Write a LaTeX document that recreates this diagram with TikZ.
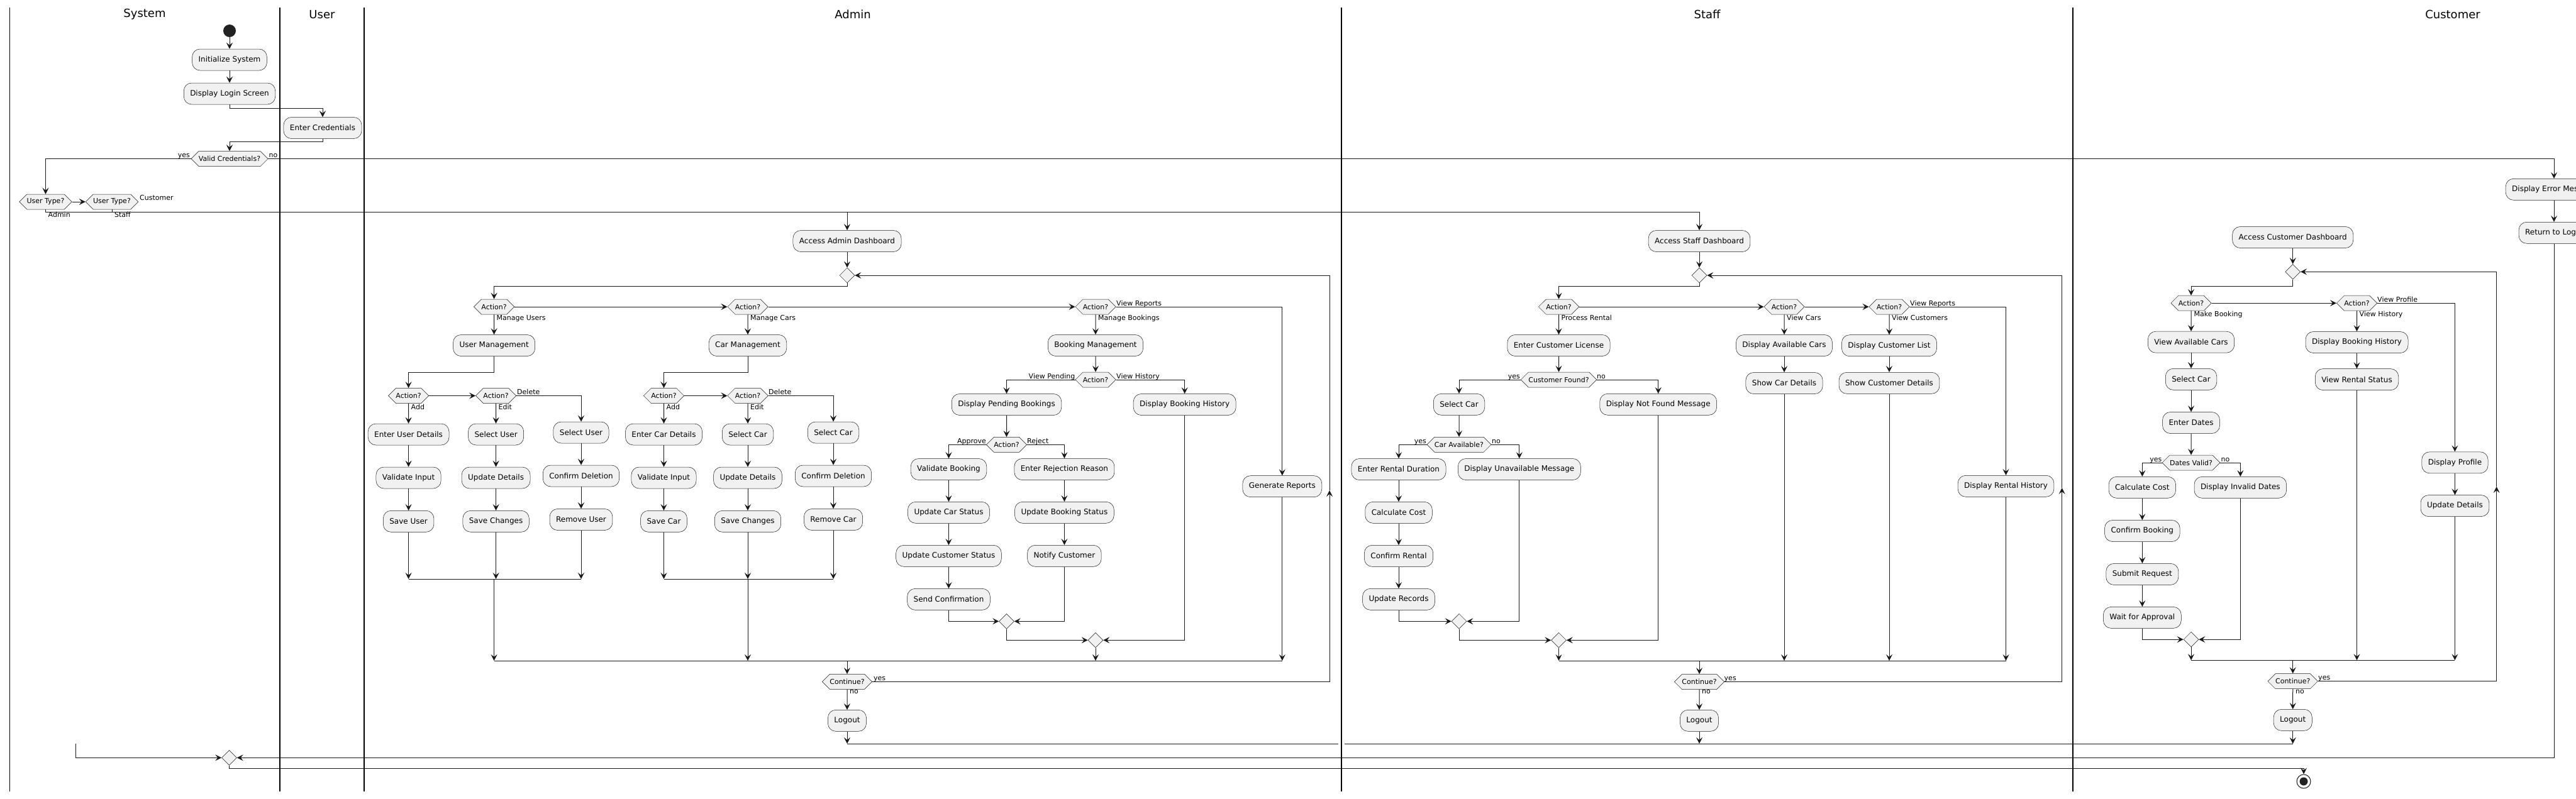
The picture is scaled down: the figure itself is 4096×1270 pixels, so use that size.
\documentclass[tikz,border=0pt]{standalone}
\usepackage{fontspec}
\setmainfont{DejaVu Sans}
\usetikzlibrary{arrows.meta,shapes.geometric,shapes.symbols,calc}
\definecolor{cF}{HTML}{F1F1F1}
\definecolor{cK}{HTML}{181818}
\definecolor{cS}{HTML}{222222}
\newcommand\fntbox{\fontsize{12}{14}\selectfont}
\newcommand\fntlab{\fontsize{11}{13}\selectfont}
\newcommand\fnttitle{\fontsize{18}{22}\selectfont}
\begin{document}
\begin{tikzpicture}[x=1pt,y=-1pt,
  act/.style={rounded corners=12.5pt, draw=cK, line width=0.5pt, fill=cF, font=\fntbox, inner xsep=10pt, inner ysep=0pt, minimum height=34pt, text=black},
  hexa/.style={signal, signal to=east and west, signal pointer angle=90, draw=cK, line width=0.5pt, fill=cF, font=\fntlab, inner xsep=0pt, inner ysep=0pt, minimum height=24pt},
  mrg/.style={diamond, draw=cK, line width=0.5pt, fill=cF, minimum width=24pt, minimum height=24pt, inner sep=0pt},
  ln/.style={draw=cK, line width=1pt},
  arr/.style={ln, -{Stealth[length=10pt,width=10pt,inset=4pt]}},
  lab/.style={font=\fntlab, inner sep=0pt},
  lane/.style={draw=black, line width=1.2pt},
  ttl/.style={font=\fnttitle, inner sep=0pt}
]
\useasboundingbox[fill=white] (0,0) rectangle (4096,1270);
% lanes
\foreach \xx in {15.6,445,579,2133,3296} \draw[lane] (\xx,12) -- (\xx,1259);
\node[ttl] (tS) at (230,23) {System};
\node[ttl] (tU) at (512,23) {User};
\node[ttl] (tA) at (1356,23) {Admin};
\node[ttl] (tSt) at (2714.5,23) {Staff};
\node[ttl] (tC) at (3900,23) {Customer};

% ---------- System / User ----------
\node[circle, fill=cS, minimum size=20pt, inner sep=0pt] (st) at (365,49) {};
\node[act] (s1) at (365,95) {Initialize System};
\node[act] (s2) at (365,149) {Display Login Screen};
\node[act] (u1) at (513,203.5) {Enter Credentials};
\node[hexa] (d1) at (365,252.5) {Valid Credentials?};
\node[hexa] (ut1) at (72.5,321) {User Type?};
\node[hexa] (ut2) at (178,321) {User Type?};
\node[act] (e1) at (4061,301.3) {Display Error Message};
\node[act] (e2) at (4061,370.3) {Return to Login};
\node[mrg] (mf) at (364.5,1205.3) {};
\node[circle, draw=cK, line width=1pt, fill=white, minimum size=22pt, inner sep=0pt,
  path picture={\fill[cS] (path picture bounding box.center) circle (6.5pt);}] (fin) at (3663,1243) {};
\coordinate (rl) at (4061,1205.3);
\coordinate (stub) at (120.5,1183);

% ---------- Admin ----------
\node[act] (a0) at (1347,383.5) {Access Admin Dashboard};
\node[mrg] (am) at (1347,438) {};
\node[hexa] (aq1) at (785.6,488) {Action?};
\node[hexa] (aq2) at (1189,488) {Action?};
\node[hexa] (aq3) at (1742,488) {Action?};
\node[act] (um) at (785.6,549.5) {User Management};
\node[act] (cm) at (1189,549.5) {Car Management};
\node[act] (bm) at (1742,549.5) {Booking Management};
\node[hexa] (uq1) at (649.6,629.5) {Action?};
\node[hexa] (uq2) at (788.6,629.5) {Action?};
\node[hexa] (cq1) at (1055.5,629.5) {Action?};
\node[hexa] (cq2) at (1189,629.5) {Action?};
\node[act] (eud) at (649.6,691) {Enter User Details};
\node[act] (su) at (788.6,691) {Select User};
\node[act] (sud) at (924,688) {Select User};
\node[act] (vi) at (649.6,760) {Validate Input};
\node[act] (ud) at (788.6,760) {Update Details};
\node[act] (cd) at (924,757) {Confirm Deletion};
\node[act] (svu) at (649.6,829.3) {Save User};
\node[act] (sch) at (788.6,829.3) {Save Changes};
\node[act] (ru) at (924,826.5) {Remove User};
\node[act] (ecd) at (1055.5,691) {Enter Car Details};
\node[act] (sca) at (1189,691) {Select Car};
\node[act] (scd) at (1325,688) {Select Car};
\node[act] (vic) at (1055.5,760) {Validate Input};
\node[act] (udc) at (1189,760) {Update Details};
\node[act] (cdc) at (1325,757) {Confirm Deletion};
\node[act] (svc) at (1055.5,829.3) {Save Car};
\node[act] (schc) at (1189,829.3) {Save Changes};
\node[act] (rc) at (1325,826.5) {Remove Car};
\node[hexa] (bq) at (1742,604) {Action?};
\node[act] (dpb) at (1600.5,643.5) {Display Pending Bookings};
\node[act] (dbh) at (1883.7,643.5) {Display Booking History};
\node[hexa] (bq2) at (1600.5,707.3) {Action?};
\node[act] (vb) at (1508.5,746.5) {Validate Booking};
\node[act] (err) at (1692.4,746.5) {Enter Rejection Reason};
\node[act] (ucs) at (1508.5,815.3) {Update Car Status};
\node[act] (ubs) at (1692.4,815.3) {Update Booking Status};
\node[act] (ucu) at (1508.5,884.3) {Update Customer Status};
\node[act] (nc) at (1692.4,884.3) {Notify Customer};
\node[act] (sco) at (1508.5,953.3) {Send Confirmation};
\node[mrg] (bmi) at (1600.5,988.3) {};
\node[mrg] (bmo) at (1742,1018.3) {};
\node[act] (gr) at (2038.8,773.7) {Generate Reports};
\node[hexa] (ac) at (1347,1084.3) {Continue?};
\node[act] (alo) at (1347,1146.3) {Logout};
\coordinate (ubL) at (649.6,921); \coordinate (ubR) at (924,921); \coordinate (ubM) at (785.6,921);
\coordinate (cbL) at (1055.5,921); \coordinate (cbR) at (1325,921); \coordinate (cbM) at (1189,921);
\coordinate (abL) at (785.6,1051); \coordinate (abR) at (2038.8,1051);
\coordinate (alp) at (2114,780);
\coordinate (lgL) at (1347,1183); \coordinate (lgG1) at (2128,1183); \coordinate (lgG2) at (2138,1183); \coordinate (lgR) at (3645.7,1183);

% ---------- Staff ----------
\node[act] (s0) at (2702,383.5) {Access Staff Dashboard};
\node[mrg] (sm) at (2702,438) {};
\node[hexa] (sq1) at (2478.5,488) {Action?};
\node[hexa] (sq2) at (2837,488) {Action?};
\node[hexa] (sq3) at (3004,488) {Action?};
\node[act] (ecl) at (2478.5,549.5) {Enter Customer License};
\node[hexa] (cf) at (2478.5,604) {Customer Found?};
\node[act] (ssc) at (2320,643.3) {Select Car};
\node[act] (dnf) at (2636.7,643.3) {Display Not Found Message};
\node[hexa] (ca) at (2320,707.3) {Car Available?};
\node[act] (erd) at (2224,746.5) {Enter Rental Duration};
\node[act] (dum) at (2415.8,746.5) {Display Unavailable Message};
\node[act] (scc) at (2224,815.3) {Calculate Cost};
\node[act] (scr) at (2224,884.3) {Confirm Rental};
\node[act] (sur) at (2224,953.3) {Update Records};
\node[mrg] (smi) at (2320,988.3) {};
\node[mrg] (smo) at (2478.5,1018.3) {};
\node[act] (dac) at (2837,549.5) {Display Available Cars};
\node[act] (shc) at (2837,609.5) {Show Car Details};
\node[act] (dcl) at (3004,549.7) {Display Customer List};
\node[act] (scu) at (3004,609.3) {Show Customer Details};
\node[act] (drh) at (3189.5,773.3) {Display Rental History};
\node[hexa] (sct) at (2702,1084.5) {Continue?};
\node[act] (slo) at (2702,1146.3) {Logout};
\coordinate (sbL) at (2478.5,1051); \coordinate (sbR) at (3189.5,1051);
\coordinate (slp) at (3278.6,776);

% ---------- Customer ----------
\node[act] (c0) at (3645.7,377.5) {Access Customer Dashboard};
\node[mrg] (cmd) at (3645.7,432.3) {};
\node[hexa] (kq1) at (3484,482.2) {Action?};
\node[hexa] (kq2) at (3747.5,482.2) {Action?};
\node[act] (vac) at (3484,544.2) {View Available Cars};
\node[act] (ksc) at (3484,603.3) {Select Car};
\node[act] (ked) at (3484,672.5) {Enter Dates};
\node[hexa] (dv) at (3484,736) {Dates Valid?};
\node[act] (kcc) at (3406.3,775.3) {Calculate Cost};
\node[act] (kcb) at (3406.3,844.5) {Confirm Booking};
\node[act] (ksr) at (3406.3,913.4) {Submit Request};
\node[act] (kwa) at (3406.3,982.4) {Wait for Approval};
\node[act] (did) at (3562.3,775.3) {Display Invalid Dates};
\node[mrg] (kdm) at (3484,1017.2) {};
\node[act] (kbh) at (3747.5,544.5) {Display Booking History};
\node[act] (vrs) at (3747.5,603.6) {View Rental Status};
\node[act] (dp) at (3903.4,735.8) {Display Profile};
\node[act] (kud) at (3903.4,804.6) {Update Details};
\node[hexa] (kco) at (3645.7,1083.7) {Continue?};
\node[act] (klo) at (3645.7,1145.3) {Logout};
\coordinate (kbL) at (3484,1050.3); \coordinate (kbR) at (3903.4,1050.3);
\coordinate (klp) at (3969.6,774);

% ---------- connectors: system ----------
\draw[arr] (st) -- (s1);
\draw[arr] (s1) -- (s2);
\draw[arr] (s2.south) -- ++(0,6) -| (u1.north);
\draw[arr] (u1.south) -- ++(0,5) -| (d1.north);
\draw[arr] (d1.west) -| (ut1.north);
\draw[arr] (d1.east) -| (e1.north);
\draw[arr] (ut1.east) -- (ut2.west);
\draw[arr] (ut1.south) -- ++(0,4) -| (a0.north);
\draw[arr] (ut2.south) -- ++(0,4) -| (s0.north);
\draw[arr] (e1) -- (e2);
\draw[arr] (e2.south) -- (rl) -- (mf.east);
\draw[arr] (stub) |- (mf.west);
\draw[arr] (mf.south) -- ++(0,5) -| (fin.north);
\node[lab, anchor=base east] (l1) at (302,250.5) {yes};
\node[lab, anchor=base west] (l2) at (427.5,250.5) {no};
\node[lab, anchor=base west] (l3) at (222,318.5) {Customer};
\node[lab, anchor=north west] (l4) at (76.5,336.5) {Admin};
\node[lab, anchor=north west] (l5) at (182,336.5) {Staff};

% ---------- connectors: admin ----------
\draw[arr] (a0) -- (am);
\draw[arr] (am.south) -- ++(0,5.7) -| (aq1.north);
\draw[arr] (aq1.east) -- (aq2.west);
\draw[arr] (aq2.east) -- (aq3.west);
\draw[arr] (aq3.east) -| (gr.north);
\draw[arr] (aq1) -- (um);
\draw[arr] (aq2) -- (cm);
\draw[arr] (aq3) -- (bm);
\draw[arr] (um.south) -- ++(0,25.3) -| (uq1.north);
\draw[arr] (cm.south) -- ++(0,25.3) -| (cq1.north);
\draw[arr] (uq1.east) -- (uq2.west);
\draw[arr] (uq2.east) -| (sud.north);
\draw[arr] (cq1.east) -- (cq2.west);
\draw[arr] (cq2.east) -| (scd.north);
\draw[arr] (uq1) -- (eud); \draw[arr] (eud) -- (vi); \draw[arr] (vi) -- (svu);
\draw[arr] (uq2) -- (su); \draw[arr] (su) -- (ud); \draw[arr] (ud) -- (sch);
\draw[arr] (sud) -- (cd); \draw[arr] (cd) -- (ru);
\draw[arr] (cq1) -- (ecd); \draw[arr] (ecd) -- (vic); \draw[arr] (vic) -- (svc);
\draw[arr] (cq2) -- (sca); \draw[arr] (sca) -- (udc); \draw[arr] (udc) -- (schc);
\draw[arr] (scd) -- (cdc); \draw[arr] (cdc) -- (rc);
\draw[arr] (svu.south) -- (ubL); \draw[arr] (sch.south) -- (sch.south |- ubL); \draw[arr] (ru.south) -- (ubR);
\draw[ln] (ubL) -- (ubR);
\draw[arr] (svc.south) -- (cbL); \draw[arr] (schc.south) -- (cbM); \draw[arr] (rc.south) -- (cbR);
\draw[ln] (cbL) -- (cbR);
\draw[arr] (ubM) -- (abL);
\draw[arr] (cbM) -- (cbM |- abL);
\draw[arr] (bm) -- (bq);
\draw[arr] (bq.west) -| (dpb.north);
\draw[arr] (bq.east) -| (dbh.north);
\draw[arr] (dpb) -- (bq2);
\draw[arr] (bq2.west) -| (vb.north);
\draw[arr] (bq2.east) -| (err.north);
\draw[arr] (vb) -- (ucs); \draw[arr] (ucs) -- (ucu); \draw[arr] (ucu) -- (sco);
\draw[arr] (err) -- (ubs); \draw[arr] (ubs) -- (nc);
\draw[arr] (sco.south) |- (bmi.west);
\draw[arr] (nc.south) |- (bmi.east);
\draw[arr] (bmi.south) |- (bmo.west);
\draw[arr] (dbh.south) |- (bmo.east);
\draw[arr] (bmo.south) -- (bmo.south |- abL);
\draw[arr] (gr.south) -- (abR);
\draw[ln] (abL) -- (abR);
\draw[arr] (ac.north |- abL) -- (ac.north);
\draw[arr] (ac.east) -| (alp);
\draw[arr] (alp) |- (am.east);
\draw[arr] (ac) -- (alo);
\draw[arr] (alo.south) -- (lgL);
\draw[ln] (lgL) -- (lgG1);
\draw[ln] (lgG2) -- (lgR);
\node[lab, anchor=north west] (m1) at (789.5,501) {Manage Users};
\node[lab, anchor=north west] (m2) at (1193,501) {Manage Cars};
\node[lab, anchor=north west] (m3) at (1746,501) {Manage Bookings};
\node[lab, anchor=base west] (m4) at (1775,486) {View Reports};
\node[lab, anchor=north west] (m5) at (653.5,642.5) {Add};
\node[lab, anchor=north west] (m6) at (792.5,642.5) {Edit};
\node[lab, anchor=base west] (m7) at (822,627.5) {Delete};
\node[lab, anchor=north west] (m8) at (1059.5,642.5) {Add};
\node[lab, anchor=north west] (m9) at (1193,642.5) {Edit};
\node[lab, anchor=base west] (m10) at (1222,627.5) {Delete};
\node[lab, anchor=base east] (m11) at (1709.5,602) {View Pending};
\node[lab, anchor=base west] (m12) at (1775,602) {View History};
\node[lab, anchor=base east] (m13) at (1568,705.3) {Approve};
\node[lab, anchor=base west] (m14) at (1633,705.3) {Reject};
\node[lab, anchor=base west] (m15) at (1389,1082.3) {yes};
\node[lab, anchor=north west] (m16) at (1351,1097.5) {no};

% ---------- connectors: staff ----------
\draw[arr] (s0) -- (sm);
\draw[arr] (sm.south) -- ++(0,5.7) -| (sq1.north);
\draw[arr] (sq1.east) -- (sq2.west);
\draw[arr] (sq2.east) -- (sq3.west);
\draw[arr] (sq3.east) -| (drh.north);
\draw[arr] (sq1) -- (ecl);
\draw[arr] (sq2) -- (dac);
\draw[arr] (sq3) -- (dcl);
\draw[arr] (ecl) -- (cf);
\draw[arr] (cf.west) -| (ssc.north);
\draw[arr] (cf.east) -| (dnf.north);
\draw[arr] (ssc) -- (ca);
\draw[arr] (ca.west) -| (erd.north);
\draw[arr] (ca.east) -| (dum.north);
\draw[arr] (erd) -- (scc); \draw[arr] (scc) -- (scr); \draw[arr] (scr) -- (sur);
\draw[arr] (sur.south) |- (smi.west);
\draw[arr] (dum.south) |- (smi.east);
\draw[arr] (smi.south) |- (smo.west);
\draw[arr] (dnf.south) |- (smo.east);
\draw[arr] (dac) -- (shc);
\draw[arr] (dcl) -- (scu);
\draw[arr] (smo.south) -- (sbL);
\draw[arr] (shc.south) -- (shc.south |- sbL);
\draw[arr] (scu.south) -- (scu.south |- sbL);
\draw[arr] (drh.south) -- (sbR);
\draw[ln] (sbL) -- (sbR);
\draw[arr] (sct.north |- sbL) -- (sct.north);
\draw[arr] (sct.east) -| (slp);
\draw[arr] (slp) |- (sm.east);
\draw[arr] (sct) -- (slo);
\draw[arr] (slo.south) -- (slo.south |- lgR);
\node[lab, anchor=north west] (n1) at (2482.5,501) {Process Rental};
\node[lab, anchor=north west] (n2) at (2841,501) {View Cars};
\node[lab, anchor=north west] (n3) at (3008,501) {View Customers};
\node[lab, anchor=base west] (n4) at (3037,486) {View Reports};
\node[lab, anchor=base east] (n5) at (2417,602) {yes};
\node[lab, anchor=base west] (n6) at (2539,602) {no};
\node[lab, anchor=base east] (n7) at (2268,705.3) {yes};
\node[lab, anchor=base west] (n8) at (2372,705.3) {no};
\node[lab, anchor=base west] (n9) at (2741.5,1082.5) {yes};
\node[lab, anchor=north west] (n10) at (2706,1097.5) {no};

% ---------- connectors: customer ----------
\draw[arr] (c0) -- (cmd);
\draw[arr] (cmd.south) -- ++(0,11.3) -| (kq1.north);
\draw[arr] (kq1.east) -- (kq2.west);
\draw[arr] (kq2.east) -| (dp.north);
\draw[arr] (kq1) -- (vac);
\draw[arr] (kq2) -- (kbh);
\draw[arr] (vac) -- (ksc); \draw[arr] (ksc) -- (ked); \draw[arr] (ked) -- (dv);
\draw[arr] (dv.west) -| (kcc.north);
\draw[arr] (dv.east) -| (did.north);
\draw[arr] (kcc) -- (kcb); \draw[arr] (kcb) -- (ksr); \draw[arr] (ksr) -- (kwa);
\draw[arr] (kwa.south) |- (kdm.west);
\draw[arr] (did.south) |- (kdm.east);
\draw[arr] (kbh) -- (vrs);
\draw[arr] (dp) -- (kud);
\draw[arr] (kdm.south) -- (kbL);
\draw[arr] (vrs.south) -- (vrs.south |- kbL);
\draw[arr] (kud.south) -- (kbR);
\draw[ln] (kbL) -- (kbR);
\draw[arr] (kco.north |- kbL) -- (kco.north);
\draw[arr] (kco.east) -| (klp);
\draw[arr] (klp) |- (cmd.east);
\draw[arr] (kco) -- (klo);
\draw[arr] (klo.south) -- (lgR);
\node[lab, anchor=north west] (k1) at (3488.5,495) {Make Booking};
\node[lab, anchor=north west] (k2) at (3751.5,495) {View History};
\node[lab, anchor=base west] (k3) at (3780,480.2) {View Profile};
\node[lab, anchor=base east] (k4) at (3437.5,734) {yes};
\node[lab, anchor=base west] (k5) at (3531.5,734) {no};
\node[lab, anchor=base west] (k6) at (3686,1081.7) {yes};
\node[lab, anchor=north west] (k7) at (3650,1096.7) {no};
\end{tikzpicture}
\end{document}
